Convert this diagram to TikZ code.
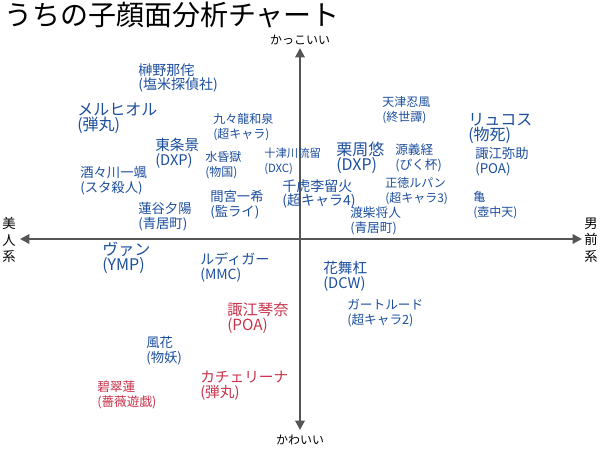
\documentclass[tikz,border=0pt]{standalone}
\usepackage{fontspec}
\setmainfont{Noto Sans CJK JP}
\usetikzlibrary{arrows.meta}
\definecolor{cb}{HTML}{1C4E9E}
\definecolor{cr}{HTML}{C8324A}
\definecolor{ax}{HTML}{555555}
\begin{document}
\begin{tikzpicture}[x=0.75pt,y=-0.75pt,
 t/.style={anchor=north west,align=left,inner sep=0,text=cb},
 r/.style={t,text=cr},
 s/.style={font=\fontsize{#1}{1.12em}\selectfont},
 axl/.style={inner sep=0,font=\fontsize{9}{11}\selectfont,align=center},
 axis/.style={draw=ax,line width=1.5pt,-{Triangle[length=7pt,width=7pt]}}]
\useasboundingbox (0,0) rectangle (600,450);
\node[anchor=north west,inner sep=0,font=\fontsize{21}{22}\selectfont] (title) at (4,2) {うちの子顔面分析チャート};
\coordinate (c) at (300,239);
\node[axl] (top) at (300,40) {かっこいい};
\node[axl] (bot) at (300,440) {かわいい};
\node[axl,font=\fontsize{10}{12.5}\selectfont] (left) at (9,240) {美\\人\\系};
\node[axl,font=\fontsize{10}{12.5}\selectfont] (right) at (591,240) {男\\前\\系};
\coordinate (L) at (20,239); \coordinate (R) at (582,239);
\coordinate (T) at (300,48); \coordinate (B) at (300,430);
\draw[axis] (c) -- (L); \draw[axis] (c) -- (R);
\draw[axis] (c) -- (T); \draw[axis] (c) -- (B);
\node[t,s=10.5] (n1) at (138,63) {榊野那侘\\(塩米探偵社)};
\node[t,s=12] (n2) at (77,103) {メルヒオル\\(弾丸)};
\node[t,s=9] (n3) at (213,113) {九々龍和泉\\(超キャラ)};
\node[t,s=11] (n4) at (155,138) {東条景\\(DXP)};
\node[t,s=9] (n5) at (205,151) {水昏獄\\(物国)};
\node[t,s=8.5] (n6) at (264,148) {十津川流留\\(DXC)};
\node[t,s=10] (n7) at (80,166) {酒々川一颯\\(スタ殺人)};
\node[t,s=10] (n8) at (210,190) {間宮一希\\(監ライ)};
\node[t,s=10.5] (n9) at (282,179) {千虎李留火\\(超キャラ4)};
\node[t,s=10] (n10) at (138,202) {蓮谷夕陽\\(青居町)};
\node[t,s=9] (n11) at (382,96) {天津忍風\\(終世譚)};
\node[t,s=12] (n12) at (468,113) {リュコス\\(物死)};
\node[t,s=12] (n13) at (336,142) {栗周悠\\(DXP)};
\node[t,s=9.5] (n14) at (395,144) {源義経\\(ぴく杯)};
\node[t,s=10] (n15) at (475,147) {諏江弥助\\(POA)};
\node[t,s=9] (n16) at (385,177) {正徳ルパン\\(超キャラ3)};
\node[t,s=9] (n17) at (473,191) {亀\\(壺中天)};
\node[t,s=9.5] (n18) at (350,207) {渡柴将人\\(青居町)};
\node[t,s=12] (n19) at (102,242) {ヴァン\\(YMP)};
\node[t,s=10.5] (n20) at (200,252) {ルディガー\\(MMC)};
\node[t,s=11] (n21) at (323,261) {花舞杠\\(DCW)};
\node[t,s=9.5] (n22) at (347,299) {ガートルード\\(超キャラ2)};
\node[r,s=11.5] (n23) at (227,302) {諏江琴奈\\(POA)};
\node[t,s=10] (n24) at (146,336) {風花\\(物妖)};
\node[r,s=9.5] (n25) at (97,381) {碧翠蓮\\(薔薇遊戯)};
\node[r,s=11] (n26) at (200,371) {カチェリーナ\\(弾丸)};
\end{tikzpicture}
\end{document}
